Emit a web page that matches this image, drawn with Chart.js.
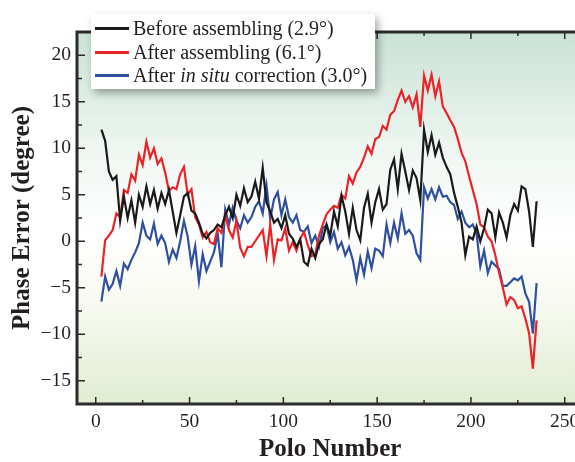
<!DOCTYPE html>
<html lang="en">
<head>
<meta charset="UTF-8">
<title>Phase Error</title>
<script src="https://cdn.jsdelivr.net/npm/chart.js"></script>
<style>
  html, body { margin: 0; padding: 0; overflow: hidden; background: #fff; }
  #wrap { position: relative; width: 610px; height: 462px; }
  #legend {
    position: absolute; left: 91px; top: 14px; width: 284px; height: 75px;
    box-sizing: border-box; padding-top: 3px; background: #fff;
    box-shadow: 3px 4px 8px rgba(0, 0, 0, 0.35);
    font-family: "Liberation Serif", serif; font-size: 20px; color: #231f20;
    white-space: nowrap;
  }
  #legend .row { height: 23.5px; display: flex; align-items: center; }
  #legend .swatch { display: inline-block; width: 34px; height: 3px; margin-left: 4px; margin-right: 4px; }
</style>
</head>
<body>
<div id="wrap">
  <canvas id="grafico"></canvas>
  <div id="legend">
    <div class="row"><span class="swatch" style="background:#1a1a1a"></span><span>Before assembling (2.9°)</span></div>
    <div class="row"><span class="swatch" style="background:#ec2227"></span><span>After assembling (6.1°)</span></div>
    <div class="row"><span class="swatch" style="background:#2f4f9f"></span><span>After <i>in situ</i> correction (3.0°)</span></div>
  </div>
</div>

<script>
  // numero do polo (eixo x)
  const polos = [
    3, 5, 7, 9, 11, 13, 15, 17, 19, 21,
    23, 25, 27, 29, 31, 33, 35, 37, 39, 41,
    43, 45, 47, 49, 51, 53, 55, 57, 59, 61,
    63, 65, 67, 69, 71, 73, 75, 77, 79, 81,
    83, 85, 87, 89, 91, 93, 95, 97, 99, 101,
    103, 105, 107, 109, 111, 113, 115, 117, 119, 121,
    123, 125, 127, 129, 131, 133, 135, 137, 139, 141,
    143, 145, 147, 149, 151, 153, 155, 157, 159, 161,
    163, 165, 167, 169, 171, 173, 175, 177, 179, 181,
    183, 185, 187, 189, 191, 193, 195, 197, 199, 201,
    203, 205, 207, 209, 211, 213, 215, 217, 219, 221,
    223, 225, 227, 229, 231, 233, 235
  ];

  // Before assembling (2.9°)
  const antesMontagem = [
    12.0, 10.8, 7.5, 6.6, 7.0, 2.2, 4.8, 2.5, 4.4, 2.0,
    5.0, 3.7, 5.9, 4.0, 5.5, 3.5, 5.2, 4.0, 5.5, 3.2,
    0.9, 2.8, 4.8, 5.2, 3.3, 3.0, 2.0, 0.8, 0.3, 0.9,
    1.2, 1.8, 1.5, 2.8, 3.7, 2.5, 5.0, 3.8, 5.7, 4.2,
    4.8, 6.4, 4.6, 7.9, 4.2, 3.2, 2.0, 2.4, 1.4, 2.8,
    0.8, 0.3, -0.6, 0.2, -2.2, -2.6, -0.8, -1.8, -0.3, 0.2,
    1.8, 0.6, 3.2, 1.6, 4.9, 3.2, 0.8, 3.6, 1.2, 0.1,
    3.6, 5.1, 2.0, 4.2, 5.6, 3.4, 4.0, 7.7, 8.8, 5.6,
    9.4, 7.5, 5.5, 7.6, 6.8, 4.4, 12.0, 9.6, 11.4, 9.3,
    10.6, 9.0, 8.0, 7.2, 5.2, 3.7, 2.0, -1.5, 0.5, 0.2,
    1.6, 0.0, 1.4, 3.4, 3.0, 0.4, 3.1, 2.0, 0.4, 2.8,
    4.0, 3.3, 5.9, 5.6, 3.2, -0.6, 4.3
  ];

  // After assembling (6.1°)
  const depoisMontagem = [
    -3.8, 0.1, 0.6, 1.2, 3.0, 2.6, 5.5, 5.2, 7.2, 6.5,
    9.3, 8.2, 10.7, 9.0, 10.0, 8.3, 8.9, 7.4, 5.4, 5.8,
    5.6, 7.2, 8.0, 5.0, 5.6, 2.6, 1.8, 0.4, 1.0, -0.1,
    -0.3, 1.4, 0.9, 2.8, 1.2, 0.4, 2.2, -0.7, -1.6, -0.6,
    -0.6, 0.0, 0.6, 1.2, -1.6, 1.8, -2.0, 0.2, 0.1, 1.4,
    -1.0, -0.1, -1.0, 0.3, 1.0, -0.4, -1.6, -1.4, 0.6, 1.8,
    2.9, 3.4, 3.8, 3.6, 5.0, 4.6, 7.0, 6.2, 7.4, 8.0,
    9.0, 10.2, 9.4, 11.0, 11.2, 12.4, 12.0, 13.6, 14.0, 15.2,
    16.2, 15.0, 15.6, 14.4, 15.8, 12.3, 17.8, 16.2, 17.9, 15.6,
    17.2, 14.5, 13.8, 13.0, 12.3, 11.0, 9.5, 8.6, 7.0, 5.5,
    4.0, 1.8, 1.5, 0.5, 0.0, -1.5, -3.4, -5.0, -6.8, -6.0,
    -6.3, -7.2, -7.0, -8.3, -9.9, -13.7, -8.5
  ];

  // After in situ correction (3.0°)
  const correcaoInSitu = [
    -6.5, -3.8, -5.2, -4.6, -3.2, -4.8, -2.4, -3.0, -2.0, -1.2,
    -0.2, 2.0, 0.6, 0.2, 1.9, -0.3, 0.6, -0.2, -2.2, -0.9,
    -1.8, 0.0, 2.2, 0.5, -2.5, -0.5, -4.3, -1.4, -3.2, -2.2,
    -1.2, 0.8, -2.8, 3.4, 1.8, 3.6, 2.2, 1.4, 2.8, 2.0,
    2.6, 3.7, 4.3, 3.0, 6.0, 2.4, 4.5, 5.3, 2.8, 4.5,
    2.6, 2.0, 2.8, 1.2, 1.0, 1.6, -0.2, 0.6, -0.6, 1.4,
    1.7, -0.1, 1.0, -0.8, -0.1, -1.5, -0.6, -2.0, -4.2, -1.8,
    -3.6, -1.1, -2.9, -0.8, -1.0, -1.6, 1.8, -0.2, 2.0, 0.3,
    3.0, 0.8, 1.2, 0.6, -1.3, -2.0, 5.8, 4.6, 5.6, 4.5,
    5.8, 4.8, 4.9, 4.2, 3.9, 2.4, 3.2, 2.0, 1.5, 1.8,
    0.8, -2.7, -1.0, -3.4, -2.2, -2.6, -3.0, -4.8, -4.8, -4.4,
    -4.0, -4.2, -3.8, -5.6, -6.5, -9.9, -4.5
  ];

  // ticks dos eixos
  const ticksX = [0, 50, 100, 150, 200, 250];
  const ticksXMenor = [25, 75, 125, 175, 225];
  const ticksY = [-15, -10, -5, 0, 5, 10, 15, 20];
  const ticksYMenor = [-12.5, -7.5, -2.5, 2.5, 7.5, 12.5, 17.5];

  const fonte = 'Liberation Serif';

  function pontos(valores) {
    return polos.map((p, i) => ({ x: p, y: valores[i] }));
  }

  // fundo em degrade e moldura com ticks para dentro
  const moldura = {
    id: 'moldura',
    beforeDatasetsDraw(chart) {
      const { ctx, chartArea: a } = chart;
      const g = ctx.createLinearGradient(0, a.top, 0, a.bottom);
      g.addColorStop(0, '#c9e2d5');
      g.addColorStop(0.35, '#f2f8f4');
      g.addColorStop(0.55, '#ffffff');
      g.addColorStop(0.75, '#f6f9ef');
      g.addColorStop(1, '#e1ecd1');
      ctx.save();
      ctx.fillStyle = g;
      ctx.fillRect(a.left, a.top, a.right - a.left, a.bottom - a.top);
      ctx.restore();
    },
    afterDatasetsDraw(chart) {
      const { ctx, chartArea: a, scales } = chart;
      ctx.save();
      ctx.strokeStyle = '#2b2b2b';
      ctx.lineWidth = 1.5;
      ctx.beginPath();
      ticksX.concat(ticksXMenor).forEach(v => {
        const x = scales.x.getPixelForValue(v);
        const len = ticksX.includes(v) ? 7 : 4;
        ctx.moveTo(x, a.bottom); ctx.lineTo(x, a.bottom - len);
        ctx.moveTo(x, a.top); ctx.lineTo(x, a.top + len);
      });
      ticksY.concat(ticksYMenor).forEach(v => {
        const y = scales.y.getPixelForValue(v);
        const len = ticksY.includes(v) ? 8 : 5;
        ctx.moveTo(a.left, y); ctx.lineTo(a.left + len, y);
        ctx.moveTo(a.right, y); ctx.lineTo(a.right - len, y);
      });
      ctx.stroke();
      ctx.lineWidth = 3;
      ctx.strokeRect(a.left, a.top, a.right - a.left, a.bottom - a.top);
      ctx.restore();
    }
  };

  const config = {
    type: 'line',
    data: {
      datasets: [{
        label: 'Before assembling (2.9°)',
        data: pontos(antesMontagem),
        borderColor: '#1a1a1a',
        borderWidth: 2.2
      }, {
        label: 'After assembling (6.1°)',
        data: pontos(depoisMontagem),
        borderColor: '#ec2227',
        borderWidth: 2.2
      }, {
        label: 'After in situ correction (3.0°)',
        data: pontos(correcaoInSitu),
        borderColor: '#2f4f9f',
        borderWidth: 2.2
      }]
    },
    options: {
      responsive: true,
      maintainAspectRatio: false,
      animation: false,
      elements: { point: { radius: 0 }, line: { tension: 0 } },
      layout: { padding: { top: 32, right: 26.5, left: 0, bottom: 0 } },
      plugins: { legend: { display: false }, tooltip: { enabled: false } },
      scales: {
        x: {
          type: 'linear',
          min: -10,
          max: 260,
          afterBuildTicks: s => { s.ticks = ticksX.map(v => ({ value: v })); },
          afterFit: s => { s.height = 58; },
          grid: { display: false, drawTicks: false },
          border: { display: false },
          ticks: {
            font: { family: fonte, size: 19.5 },
            color: '#231f20',
            padding: 6,
            maxRotation: 0,
            autoSkip: false
          },
          title: {
            display: true,
            text: 'Polo Number',
            color: '#231f20',
            font: { family: fonte, size: 25, weight: 'bold', lineHeight: 1 },
            padding: { top: 0, bottom: 0 }
          }
        },
        y: {
          min: -17.5,
          max: 22.5,
          afterBuildTicks: s => { s.ticks = ticksY.map(v => ({ value: v })); },
          afterFit: s => { s.width = 77; },
          grid: { display: false, drawTicks: false },
          border: { display: false },
          ticks: {
            font: { family: fonte, size: 19.5 },
            color: '#231f20',
            padding: 6,
            callback: v => String(v).replace('-', '\u2212')
          },
          title: {
            display: true,
            text: 'Phase Error (degree)',
            color: '#231f20',
            font: { family: fonte, size: 25, weight: 'bold', lineHeight: 1 },
            padding: { top: 10, bottom: 0 }
          }
        }
      }
    },
    plugins: [moldura]
  };

  let myChart = new Chart(document.getElementById('grafico'), config);
</script>
</body>
</html>
